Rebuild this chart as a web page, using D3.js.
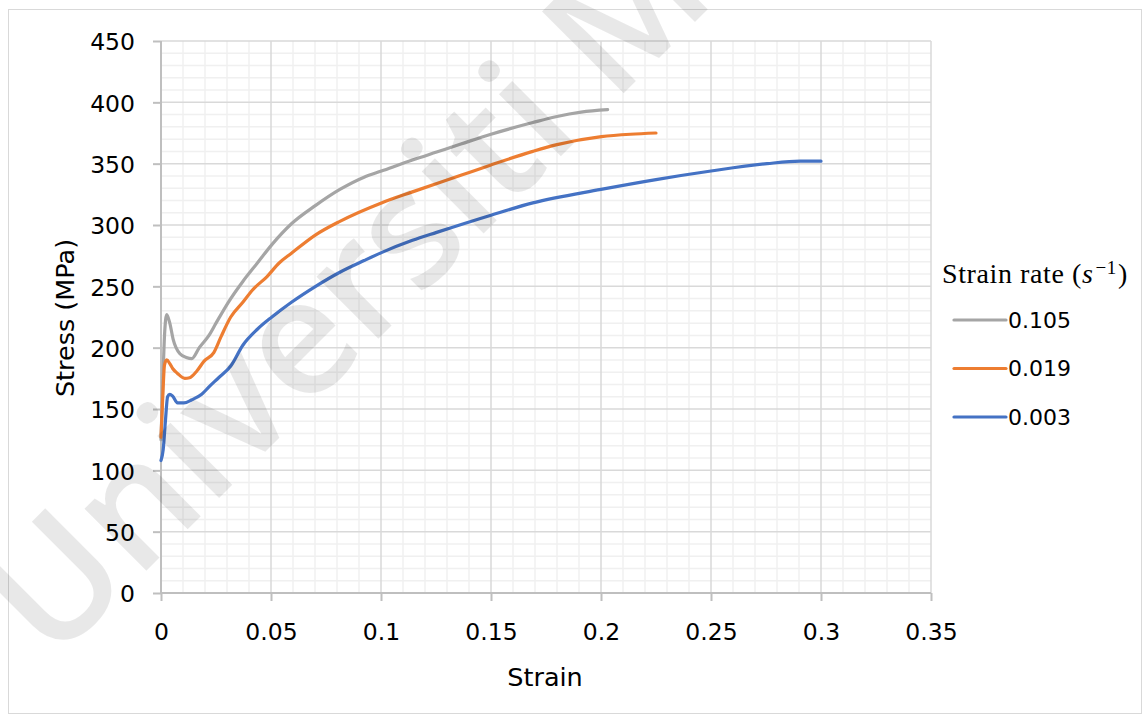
<!DOCTYPE html>
<html>
<head>
<meta charset="utf-8">
<script src="https://cdn.jsdelivr.net/npm/d3@7"></script>
<style>
  body { margin: 0; background: #fff; }
  .tick text { font-family: "DejaVu Sans", sans-serif; font-size: 23.5px; fill: #000; }
  .axis-title { font-family: "DejaVu Sans", sans-serif; font-size: 25.5px; fill: #000; }
  .legend-label { font-family: "DejaVu Sans", sans-serif; font-size: 22px; fill: #000; }
</style>
</head>
<body>
<div class="chart"></div>
<script>
// DATA ------------------------------------

const seriesNames = ["0.105", "0.019", "0.003"];
const seriesColors = ["#a5a5a5", "#ed7d31", "#4472c4"];

const strain105 = [0, 0.0008, 0.0016, 0.0026, 0.0040, 0.0055, 0.0086, 0.0115, 0.0140, 0.0174, 0.0218, 0.0250, 0.0306, 0.0372, 0.0438, 0.0504, 0.0593, 0.0703, 0.0813, 0.0923, 0.1002, 0.1143, 0.1253, 0.1363, 0.1500, 0.1690, 0.1800, 0.1910, 0.2030];
const stress105 = [125, 170, 210, 227, 220, 207, 195, 192, 191, 200, 210, 220, 237, 254, 269, 284, 301, 316, 329, 339, 344, 353, 359.5, 366, 374, 383.5, 388.5, 392, 394];

const strain019 = [0, 0.0008, 0.0016, 0.0026, 0.0040, 0.0053, 0.0075, 0.0108, 0.0130, 0.0163, 0.0196, 0.0240, 0.0273, 0.0317, 0.0372, 0.0416, 0.0482, 0.0537, 0.0593, 0.0703, 0.0813, 0.1002, 0.1143, 0.1363, 0.1500, 0.1690, 0.1800, 0.2002, 0.2134, 0.2250];
const stress019 = [127, 160, 186, 190, 187, 183, 179, 175, 175.5, 181, 189, 196, 209, 225, 237, 247, 258, 269, 277, 292, 303, 318, 327, 340.5, 349, 360, 365.5, 372, 374, 375];

const strain003 = [0, 0.0010, 0.0020, 0.0030, 0.0040, 0.0053, 0.0075, 0.0104, 0.0140, 0.0185, 0.0218, 0.0262, 0.0317, 0.0372, 0.0438, 0.0504, 0.0593, 0.0703, 0.0813, 0.0923, 0.1002, 0.1143, 0.1253, 0.1500, 0.1690, 0.2000, 0.2250, 0.2500, 0.2755, 0.2906, 0.3000];
const stress003 = [108, 117, 140, 160, 162, 160.5, 155, 155, 157.5, 162, 168, 175.5, 185, 202, 215, 225, 237, 250, 261.5, 271, 277.5, 287.5, 294, 308, 318, 329, 337, 344, 350, 352, 352];

const xTicks = [0, 0.05, 0.1, 0.15, 0.2, 0.25, 0.3, 0.35];
const yTicks = [0, 50, 100, 150, 200, 250, 300, 350, 400, 450];

// CHART INIT ------------------------------

const W = 1143, H = 722;
const margin = ({top: 41, right: 212, bottom: 129, left: 161});
const width = W - margin.left - margin.right;
const height = H - margin.top - margin.bottom;

const root = d3.select(".chart").append("svg")
    .attr("width", W)
    .attr("height", H);

// outer chart border
root.append("rect")
    .attr("x", 8.5).attr("y", 9.5)
    .attr("width", 1133).attr("height", 704)
    .attr("fill", "#fff")
    .attr("stroke", "#d9d9d9")
    .attr("stroke-width", 1);

const svg = root.append("g")
    .attr("transform", "translate(" + margin.left + "," + margin.top + ")");

const xScale = d3.scaleLinear().domain([0, 0.35]).range([0, width]);
const yScale = d3.scaleLinear().domain([0, 450]).range([height, 0]);

// minor grid
svg.append("g").selectAll("line")
    .data(d3.range(1, 35).filter(i => i % 5 !== 0).map(i => i / 100))
    .join("line")
    .attr("x1", d => xScale(d)).attr("x2", d => xScale(d))
    .attr("y1", 0).attr("y2", height)
    .attr("stroke", "#f0f0f0").attr("stroke-width", 1.5);

svg.append("g").selectAll("line")
    .data(d3.range(1, 45).map(i => i * 10).filter(d => d % 50 !== 0))
    .join("line")
    .attr("x1", 0).attr("x2", width)
    .attr("y1", d => yScale(d)).attr("y2", d => yScale(d))
    .attr("stroke", "#f0f0f0").attr("stroke-width", 1.5);

// major grid
svg.append("g").selectAll("line")
    .data(xTicks.slice(1))
    .join("line")
    .attr("x1", d => xScale(d)).attr("x2", d => xScale(d))
    .attr("y1", 0).attr("y2", height)
    .attr("stroke", "#d9d9d9").attr("stroke-width", 1.5);

svg.append("g").selectAll("line")
    .data(yTicks.slice(1))
    .join("line")
    .attr("x1", 0).attr("x2", width)
    .attr("y1", d => yScale(d)).attr("y2", d => yScale(d))
    .attr("stroke", "#d9d9d9").attr("stroke-width", 1.5);

// axes
const xAxis = d3.axisBottom(xScale).tickValues(xTicks).tickFormat(d => String(+d.toFixed(2))).tickSize(8).tickPadding(22);
const yAxis = d3.axisLeft(yScale).tickValues(yTicks).tickSize(8).tickPadding(18);

svg.append("g")
    .attr("class", "axis x-axis")
    .attr("transform", `translate(0, ${height})`)
    .call(xAxis);

svg.append("g")
    .attr("class", "axis y-axis")
    .call(yAxis);

svg.selectAll(".y-axis .tick text").attr("dy", "0.38em");
svg.selectAll(".axis .domain").attr("stroke", "#bfbfbf").attr("stroke-width", 2);
svg.selectAll(".axis .tick line").attr("stroke", "#bfbfbf").attr("stroke-width", 2);
svg.selectAll(".x-axis .domain").attr("d", `M0,0H${width}`);
svg.selectAll(".y-axis .domain").attr("d", `M0,0V${height}`);

// axis titles
svg.append("text")
    .attr("class", "axis-title")
    .attr("x", xScale(0.175) - 1)
    .attr("y", height + 93)
    .attr("text-anchor", "middle")
    .text("Strain");

svg.append("text")
    .attr("class", "axis-title")
    .attr("transform", "rotate(-90)")
    .attr("x", -height / 2 - 1)
    .attr("y", -87)
    .attr("text-anchor", "middle")
    .text("Stress (MPa)");

// curves
const series = [
    {name: seriesNames[0], color: seriesColors[0], x: strain105, y: stress105},
    {name: seriesNames[1], color: seriesColors[1], x: strain019, y: stress019},
    {name: seriesNames[2], color: seriesColors[2], x: strain003, y: stress003}
];

const line = d3.line()
    .x(d => xScale(d[0]))
    .y(d => yScale(d[1]))
    .curve(d3.curveMonotoneX);

svg.append("g").selectAll("path")
    .data(series)
    .join("path")
    .attr("d", s => line(s.x.map((v, i) => [v, s.y[i]])))
    .attr("fill", "none")
    .attr("stroke", s => s.color)
    .attr("stroke-width", 3.2)
    .attr("stroke-linecap", "round")
    .attr("stroke-linejoin", "round");

// legend
const legendTitle = root.append("text")
    .attr("x", 942)
    .attr("y", 283)
    .attr("font-family", "'Liberation Serif', 'Times New Roman', serif")
    .attr("font-size", 28)
    .attr("letter-spacing", 0.6)
    .attr("fill", "#000");
legendTitle.append("tspan").text("Strain rate (");
legendTitle.append("tspan").attr("font-style", "italic").text("s");
legendTitle.append("tspan").attr("font-size", 19).attr("dx", 2).attr("dy", -9).text("\u22121");
legendTitle.append("tspan").attr("dx", 1).attr("dy", 9).text(")");

const legend = root.append("g").selectAll("g")
    .data(series)
    .join("g")
    .attr("transform", (d, i) => `translate(954, ${320 + i * 48.5})`);

legend.append("line")
    .attr("x1", 0).attr("x2", 52)
    .attr("stroke", d => d.color)
    .attr("stroke-width", 3.2)
    .attr("stroke-linecap", "round");

legend.append("text")
    .attr("class", "legend-label")
    .attr("x", 54)
    .attr("dy", "0.36em")
    .text(d => d.name);

// watermark
root.append("text")
    .attr("transform", "translate(52,665) rotate(-45)")
    .attr("font-family", "'Open Sans', sans-serif")
    .attr("font-size", 162)
    .attr("font-weight", 600)
    .attr("fill", "#000")
    .attr("fill-opacity", 0.09)
    .text("Universiti Malaya");
</script>
</body>
</html>
